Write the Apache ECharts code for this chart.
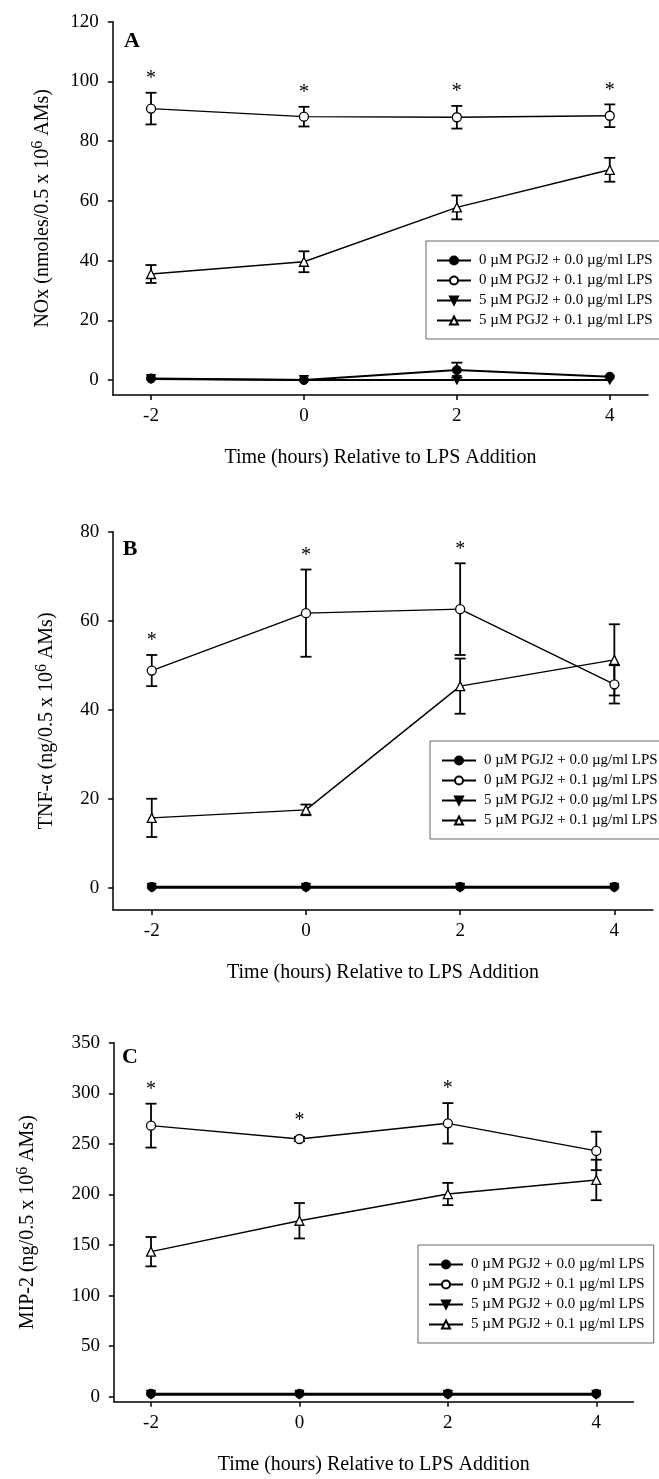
<!DOCTYPE html>
<html><head><meta charset="utf-8">
<script src="https://cdn.jsdelivr.net/npm/echarts@6/dist/echarts.min.js"></script>
<style>html,body{margin:0;padding:0;background:#fff;}#c{width:659px;height:1479px;}</style>
</head><body><div id="c"></div>
<script>
// ---------- data ----------
const times = [-2, 0, 2, 4];
const xTicks = [-2, 0, 2, 4];
const seriesNames = [
  '0 \u00B5M PGJ2 + 0.0 \u00B5g/ml LPS',
  '0 \u00B5M PGJ2 + 0.1 \u00B5g/ml LPS',
  '5 \u00B5M PGJ2 + 0.0 \u00B5g/ml LPS',
  '5 \u00B5M PGJ2 + 0.1 \u00B5g/ml LPS'
];
const xTitle = 'Time (hours) Relative to LPS Addition';

// Panel A: NOx
const aTicks = [0, 20, 40, 60, 80, 100, 120];
const aCtrl = [0.5, 0.0, 3.3, 1.1];
const aCtrlErr = [0, 0, 2.5, 0];
const aLps = [90.9, 88.2, 88.0, 88.5];
const aLpsErr = [5.3, 3.3, 3.8, 3.8];
const aPgj = [0.3, 0.0, 0.0, 0.0];
const aBoth = [35.5, 39.6, 57.8, 70.4];
const aBothErr = [3.0, 3.5, 4.0, 4.0];
const aSig = [1, 1, 1, 1];

// Panel B: TNF-alpha
const bTicks = [0, 20, 40, 60, 80];
const bCtrl = [0.2, 0.2, 0.2, 0.2];
const bCtrlErr = [0, 0, 0, 0];
const bLps = [48.8, 61.7, 62.6, 45.7];
const bLpsErr = [3.5, 9.8, 10.3, 4.3];
const bPgj = [0, 0, 0, 0];
const bBoth = [15.7, 17.5, 45.3, 51.2];
const bBothErr = [4.3, 1.2, 6.2, 8.0];
const bSig = [1, 1, 1, 0];

// Panel C: MIP-2
const cTicks = [0, 50, 100, 150, 200, 250, 300, 350];
const cCtrl = [3, 3, 3, 3];
const cCtrlErr = [0, 0, 0, 0];
const cLps = [268, 254.8, 270.3, 243];
const cLpsErr = [21.7, 2, 20, 19];
const cPgj = [2, 2, 2, 2];
const cBoth = [143.4, 174, 200.4, 214.3];
const cBothErr = [14.5, 17.5, 11, 20];
const cSig = [1, 1, 1, 0];

// ---------- styling / build ----------
const FF = "'Liberation Serif','Times New Roman',serif";
const chart = echarts.init(document.getElementById('c'), null, {renderer: 'canvas'});

function pts(v) { return times.map((t, i) => [t, v[i]]); }
function errPts(v, e, s) { return times.map((t, i) => [t, v[i], e[i], s ? s[i] : 0]); }

function errRender(params, api) {
  const x = api.value(0), y = api.value(1), e = api.value(2), s = api.value(3);
  const c = api.coord([x, y]);
  const hi = api.coord([x, y + e]);
  const lo = api.coord([x, y - e]);
  const cw = 5.5;
  const st = {stroke: '#000', lineWidth: 1.8, fill: null};
  const ch = [];
  if (e > 0) {
    ch.push({type: 'line', shape: {x1: c[0], y1: hi[1], x2: c[0], y2: lo[1]}, style: st});
    ch.push({type: 'line', shape: {x1: c[0] - cw, y1: hi[1], x2: c[0] + cw, y2: hi[1]}, style: st});
    ch.push({type: 'line', shape: {x1: c[0] - cw, y1: lo[1], x2: c[0] + cw, y2: lo[1]}, style: st});
  }
  if (s) {
    ch.push({type: 'text', x: c[0], y: Math.min(hi[1], c[1] - 4) - 14,
      style: {text: '*', font: '20px ' + FF, fill: '#000', align: 'center', verticalAlign: 'middle',
              textAlign: 'center', textVerticalAlign: 'middle'}});
  }
  return {type: 'group', children: ch};
}

function lineSeries(gi, k, data) {
  const filled = (k === 0 || k === 2);
  const tri = (k >= 2);
  return {
    type: 'line', name: seriesNames[k], xAxisIndex: gi, yAxisIndex: gi,
    data: pts(data), symbol: tri ? 'triangle' : 'circle', symbolSize: 9,
    symbolRotate: (k === 2) ? 180 : 0, showAllSymbol: true,
    lineStyle: {color: '#000', width: filled ? 2 : 1.4},
    itemStyle: filled ? {color: '#000', borderColor: '#000', borderWidth: 1}
                      : {color: '#fff', borderColor: '#000', borderWidth: 1.3},
    z: 3, silent: true, animation: false
  };
}
function errSeries(gi, v, e, s) {
  return {type: 'custom', xAxisIndex: gi, yAxisIndex: gi, data: errPts(v, e, s),
    encode: {x: 0, y: 1}, renderItem: errRender, z: 2, silent: true, clip: false, animation: false};
}

const grids = [
  {left: 112.8, right: 659 - 648, top: 21.7, height: 373.2},
  {left: 113.2, right: 659 - 652.9, top: 531.7, height: 378.3},
  {left: 113.9, right: 659 - 633.4, top: 1042.7, height: 359.1}
].map(g => Object.assign({outerBoundsMode: 'none', containLabel: false}, g));

function xAx(gi) {
  return {type: 'value', gridIndex: gi, min: -2.5, max: 4.5,
    axisLine: {show: true, onZero: false, lineStyle: {color: '#000', width: 1.5}},
    axisTick: {show: true, length: 5, inside: false, customValues: xTicks, lineStyle: {color: '#000', width: 1.5}},
    axisLabel: {show: true, customValues: xTicks, color: '#000', fontFamily: FF, fontSize: 19, margin: 12},
    splitLine: {show: false},
    name: xTitle, nameLocation: 'middle', nameGap: 53,
    nameTextStyle: {color: '#000', fontFamily: FF, fontSize: 20}};
}
function yAx(gi, max, ticks, name, gap) {
  return {type: 'value', gridIndex: gi, min: -5, max: max,
    axisLine: {show: true, onZero: false, lineStyle: {color: '#000', width: 1.5}},
    axisTick: {show: true, length: 5, inside: false, customValues: ticks, lineStyle: {color: '#000', width: 1.5}},
    axisLabel: {show: true, customValues: ticks, color: '#000', fontFamily: FF, fontSize: 19, margin: 14},
    splitLine: {show: false},
    name: name, nameLocation: 'middle', nameRotate: 90, nameGap: gap,
    nameTextStyle: {color: '#000', fontFamily: FF, fontSize: 20, lineHeight: 26,
      rich: {s: {fontFamily: FF, fontSize: 16, lineHeight: 16, verticalAlign: 'top', color: '#000'}}}};
}

function legendAt(left, top, padL) {
  return {data: seriesNames, orient: 'vertical', left: left, top: top,
    padding: [12, 9, 11, padL], itemGap: 5, itemWidth: 34, itemHeight: 10,
    borderColor: '#666', borderWidth: 1, backgroundColor: '#fff', selectedMode: false,
    textStyle: {fontFamily: FF, fontSize: 15, lineHeight: 15, color: '#000', padding: [0, 0, 0, 3]}};
}

const series = [];
[[aCtrl, aLps, aPgj, aBoth, aCtrlErr, aLpsErr, aBothErr, aSig],
 [bCtrl, bLps, bPgj, bBoth, bCtrlErr, bLpsErr, bBothErr, bSig],
 [cCtrl, cLps, cPgj, cBoth, cCtrlErr, cLpsErr, cBothErr, cSig]].forEach((p, gi) => {
  series.push(errSeries(gi, p[0], p[4], null));
  series.push(errSeries(gi, p[1], p[5], p[7]));
  series.push(errSeries(gi, p[3], p[6], null));
  series.push(lineSeries(gi, 0, p[0]));
  series.push(lineSeries(gi, 1, p[1]));
  series.push(lineSeries(gi, 2, p[2]));
  series.push(lineSeries(gi, 3, p[3]));
});

const letter = (t, x, y) => ({type: 'text', x: x, y: y, silent: true,
  style: {text: t, font: 'bold 22px ' + FF, fill: '#000', align: 'center', verticalAlign: 'middle',
          textAlign: 'center', textVerticalAlign: 'middle'}});

chart.setOption({
  animation: false,
  backgroundColor: '#fff',
  grid: grids,
  xAxis: [xAx(0), xAx(1), xAx(2)],
  yAxis: [
    yAx(0, 120, aTicks, 'NOx (nmoles/0.5 x 10{s|6} AMs)', 57),
    yAx(1, 80, bTicks, 'TNF-\u03B1 (ng/0.5 x 10{s|6} AMs)', 53),
    yAx(2, 350, cTicks, 'MIP-2 (ng/0.5 x 10{s|6} AMs)', 73)
  ],
  legend: [legendAt(426, 241, 10), legendAt(430, 741, 11), legendAt(418, 1245, 10)],
  graphic: [letter('A', 132, 41), letter('B', 130, 549), letter('C', 130, 1057)],
  series: series
});
</script>
</body></html>
